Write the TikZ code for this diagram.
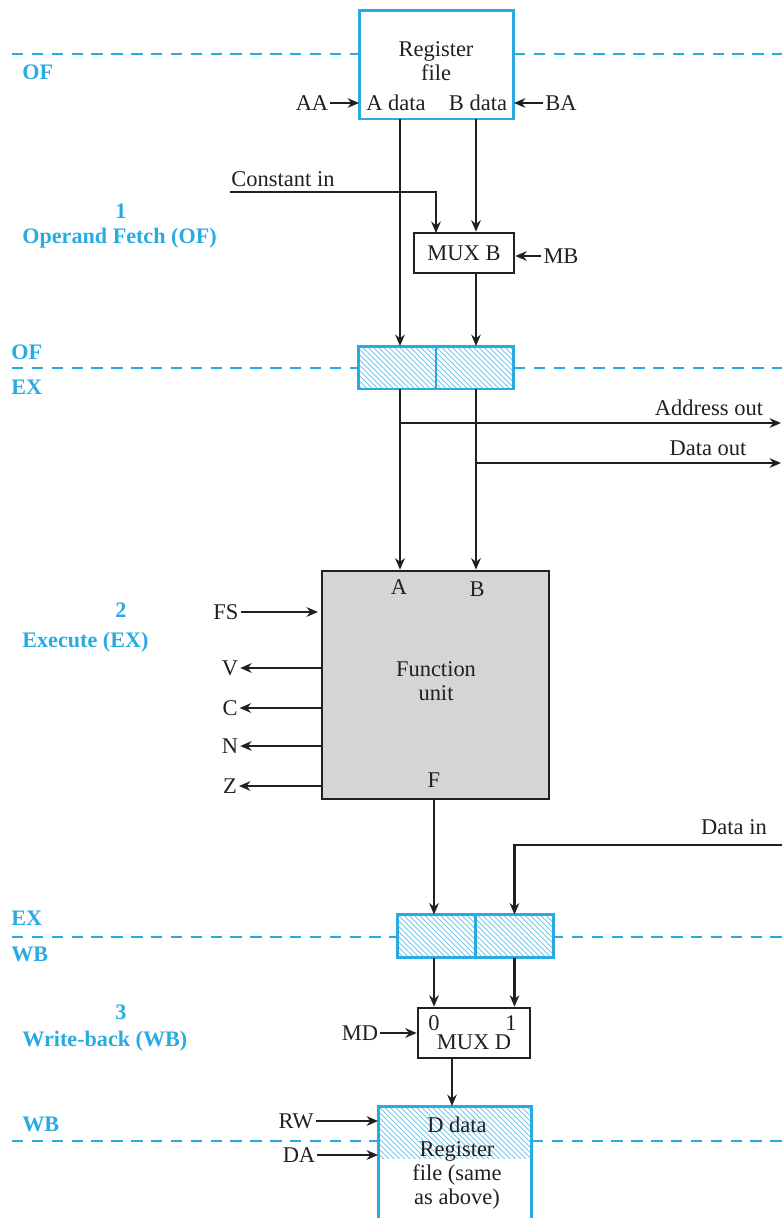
\documentclass[tikz,border=0pt]{standalone}
\usepackage{fontspec}
\setmainfont{Liberation Serif}
\usetikzlibrary{arrows.meta, positioning, patterns}
\definecolor{stageblue}{RGB}{41,171,226}
\definecolor{inkdark}{RGB}{35,31,32}
\definecolor{fugray}{RGB}{212,213,215}

\begin{document}
\begin{tikzpicture}[x=0.02cm, y=-0.02cm,
  font=\fontsize{12.8}{13.5}\selectfont, inkdark,
  wire/.style={line width=1.6pt, draw=inkdark},
  arr/.style={wire, -{Stealth[length=6.5pt,width=5.5pt]}},
  thinarr/.style={line width=0.95pt, draw=inkdark, -{Stealth[length=6.5pt,width=5.5pt]}},
  stageline/.style={line width=1.6pt, draw=stageblue, dash pattern=on 6.5pt off 4.8pt},
  stagelbl/.style={text=stageblue, inner sep=0pt, font=\fontsize{12.6}{14}\selectfont\bfseries},
  regbox/.style={draw=stageblue, line width=1.7pt, inner sep=0pt, outer sep=0pt},
  pipehalf/.style={regbox, minimum width=1.56cm, minimum height=0.86cm,
    pattern=north west lines, pattern color=stageblue!75},
  muxbox/.style={draw=inkdark, line width=1.5pt, fill=white, inner sep=0pt},
  lbl/.style={inner sep=1pt},
]
\clip (0,0) rectangle (782,1218);
\useasboundingbox (0,0) rectangle (782,1218);

% --- stage boundaries ---
\draw[stageline] (12,54) -- (359,54);
\draw[stageline] (514,54) -- (782,54);
\draw[stageline] (12,368) -- (358,368);
\draw[stageline] (514,368) -- (782,368);
\draw[stageline] (12,937) -- (398,937);
\draw[stageline] (552,937) -- (782,937);
\draw[stageline] (12,1141) -- (378,1141);
\draw[stageline] (532,1141) -- (782,1141);

\node[stagelbl, anchor=west] (ofTop) at (22,72) {OF};
\node[stagelbl] (stOne) at (121,211) {1};
\node[stagelbl, anchor=west] (stOneTxt) at (22,238) {Operand Fetch (OF)};
\node[stagelbl, anchor=west] (ofMid) at (11,352) {OF};
\node[stagelbl, anchor=west] (exMid) at (11,387) {EX};
\node[stagelbl] (stTwo) at (121,610) {2};
\node[stagelbl, anchor=west] (stTwoTxt) at (22,642) {Execute (EX)};
\node[stagelbl, anchor=west] (exLow) at (11,918) {EX};
\node[stagelbl, anchor=west] (wbLow) at (11,954) {WB};
\node[stagelbl] (stThree) at (121,1012) {3};
\node[stagelbl, anchor=west] (stThreeTxt) at (22,1041) {Write-back (WB)};
\node[stagelbl, anchor=west] (wbBot) at (22,1124) {WB};

% --- register file (read) ---
\node[regbox, minimum width=3.1cm, minimum height=2.18cm] (rf) at (436.5,64.5) {};
\node[lbl, align=center] (rfTxt) at (436,61) {Register\\file};
\node[lbl] (rfA) at (396,103) {A data};
\node[lbl] (rfB) at (478,103) {B data};
\node[lbl] (aa) at (312,103) {AA};
\node[lbl] (ba) at (561,103) {BA};
\draw[thinarr] (aa) -- (rf.west |- aa);
\draw[thinarr] (ba) -- (rf.east |- ba);
\coordinate (aBus) at (400,119);
\coordinate (bBus) at (476,119);

% --- MUX B ---
\node[muxbox, minimum width=2cm, minimum height=0.8cm] (muxb) at (464,253) {MUX B};
\node[lbl] (constIn) at (283,179) {Constant in};
\coordinate (constL) at (230,192);
\coordinate (muxbC) at (436,233);
\node[lbl] (mb) at (561,256) {MB};
\draw[arr] (constL) -| (muxbC);
\draw[arr] (bBus) -- (bBus |- muxb.north);
\draw[thinarr] (mb) -- (muxb.east |- mb);

% --- OF/EX pipeline register ---
\node[pipehalf] (p1a) at (397,367.5) {};
\node[pipehalf, right=0pt of p1a] (p1b) {};
\draw[arr] (aBus) -- (aBus |- p1a.north);
\draw[arr] (bBus |- muxb.south) -- (bBus |- p1b.north);

% --- function unit ---
\node[draw=inkdark, line width=1.6pt, fill=fugray, minimum width=4.54cm, minimum height=4.56cm] (fu) at (435.5,685) {};
\node[lbl, align=center] (fuTxt) at (436,681) {Function\\unit};
\node[lbl] (fuA) at (399,587) {A};
\node[lbl] (fuB) at (477,589) {B};
\node[lbl] (fuF) at (434,780) {F};
\draw[arr] (aBus |- p1a.south) -- (aBus |- fu.north);
\draw[arr] (bBus |- p1b.south) -- (bBus |- fu.north);

\coordinate (addrOut) at (781,423);
\coordinate (dataOut) at (781,463);
\node[lbl] (addrLbl) at (709,408) {Address out};
\node[lbl] (dataLbl) at (708,448) {Data out};
\draw[arr] (aBus |- addrOut) -- (addrOut);
\draw[arr] (bBus |- dataOut) -- (dataOut);

\node[lbl] (fs) at (226,612) {FS};
\draw[arr, shorten >=1.5pt] (fs) -- (fu.west |- fs);
\foreach \bitname/\yy in {V/668, C/708, N/746, Z/786} {
  \node[lbl] (flag\bitname) at (230,\yy) {\bitname};
  \draw[thinarr] (fu.west |- flag\bitname) -- (flag\bitname);
}

% --- EX/WB pipeline register ---
\node[pipehalf] (p2a) at (436.5,936) {};
\node[pipehalf, right=0pt of p2a] (p2b) {};
\coordinate (dataIn) at (782,845);
\node[lbl] (dataInLbl) at (734,827) {Data in};
\draw[arr] (fu.south -| fuF) -- (fuF |- p2a.north);
\draw[arr] (dataIn) -| (p2b.north);

% --- MUX D ---
\node[muxbox, minimum width=2.24cm, minimum height=1cm] (muxd) at (474,1033) {};
\node[lbl] (muxdTxt) at (474,1042) {MUX D};
\node[lbl] (md0) at (434,1023) {0};
\node[lbl] (md1) at (511,1023) {1};
\node[lbl] (md) at (360,1033) {MD};
\draw[arr] (fuF |- p2a.south) -- (fuF |- muxd.north);
\draw[arr] (p2b.south) -- (p2b.south |- muxd.north);
\draw[thinarr] (md) -- (muxd.west |- md);

% --- register file (write) ---
\path[pattern=north west lines, pattern color=stageblue!75] (378,1106) rectangle (532,1158);
\node[regbox, minimum width=3.08cm, minimum height=2.6cm, anchor=north] (rfw) at (455,1106) {};
\node[lbl, align=center] (rfwTxt) at (457,1163) {D data\\Register\\file (same\\as above)};
\coordinate (dOut) at (452,1058);
\draw[arr] (dOut) -- (dOut |- rfw.north);
\node[lbl] (rw) at (296,1121) {RW};
\node[lbl] (da) at (299,1155) {DA};
\draw[thinarr] (rw) -- (rfw.west |- rw);
\draw[arr] (da) -- (rfw.west |- da);

\end{tikzpicture}
\end{document}
